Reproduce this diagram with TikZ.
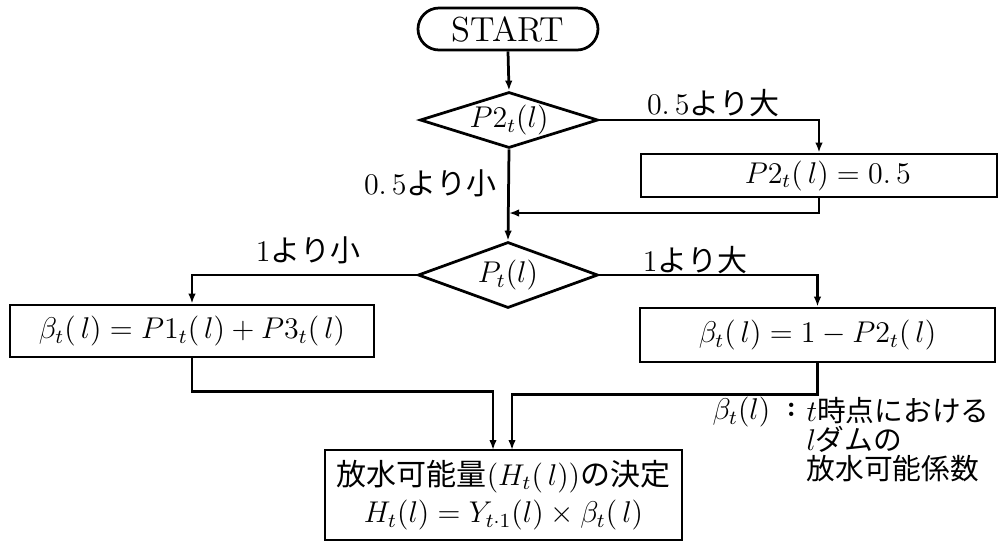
\documentclass[tikz,border=0pt]{standalone}
\usepackage{fontspec}
\newfontfamily\jp{Noto Sans CJK JP}
\usetikzlibrary{shapes.geometric,arrows.meta}
\def\px{0.4pt}
\begin{document}
\begin{tikzpicture}[x=0.4pt,y=-0.4pt,
  txt/.style={font=\fontsize{12}{14}\selectfont, inner sep=0pt},
  lgd/.style={font=\fontsize{11.5}{10}\selectfont, inner sep=0pt, anchor=west},
  box/.style={draw, line width=1.1pt, rectangle, inner sep=0pt, font=\fontsize{12}{14}\selectfont},
  dia/.style={draw, line width=1.1pt, diamond, inner sep=0pt, font=\fontsize{12}{14}\selectfont},
  conn/.style={line width=1.1pt},
  arr/.style={conn, -{Latex[length=4pt,width=3pt]}}]
\useasboundingbox (0,0) rectangle (1000,542);
% nodes
\node[box, rounded corners=21*\px, minimum width=180*\px, minimum height=42*\px, font=\fontsize{13.9}{16}\selectfont] (start) at (508,29) {START};
\node[dia, aspect=3.18, minimum width=178*\px, minimum height=56*\px] (d1) at (509,120) {$P2_t(l)$};
\node[box, minimum width=356*\px, minimum height=43*\px] (b2) at (819,175.5) {\hspace*{7pt}$P2_t(\,l)=0.\,5$};
\node[dia, aspect=2.73, minimum width=180*\px, minimum height=66*\px] (d2) at (508,275) {$P_t(l)$};
\node[box, minimum width=364*\px, minimum height=52*\px] (b3) at (192,331) {$\beta_t(\,l)=P1_t(\,l)+P3_t(\,l)$};
\node[box, minimum width=355*\px, minimum height=54*\px] (b4) at (817.5,335) {$\beta_t(\,l)=1-P2_t(\,l)$};
\node[box, minimum width=357*\px, minimum height=90*\px, align=center] (b5) at (503.5,495)
  {{\jp 放水可能量}$(H_t(\,l))${\jp の決定}\\[1pt]$H_t(l)=Y_{t\cdot 1}(l)\times\beta_t(\,l)$};
% branch labels
\node[txt] (l1) at (713,103) {0.\,5{\jp より大}};
\node[txt] (l2) at (430,183) {0.\,5{\jp より小}};
\node[txt] (l3) at (308,250) {1{\jp より小}};
\node[txt] (l4) at (695,260) {1{\jp より大}};
% legend
\node[lgd, font=\fontsize{11.5}{12}\selectfont] (g1) at (712,412) {$\beta_t(l)$};
\node[lgd, font=\fontsize{12}{12}\selectfont] (g2) at (786,410) {\textbf{:}};
\node[lgd, align=left, anchor=north west] (g3) at (806,397)
  {$t${\jp 時点における}\\$l${\jp ダムの}\\{\jp 放水可能係数}};
% coordinates
\coordinate (j1) at (509,213);
\coordinate (b5L) at (493,450);
\coordinate (b5R) at (512,450);
% connectors
\draw[arr] (start.south) -- (d1.north);
\draw[arr] (d1.east) -| (b2.north);
\draw[arr] (b2.south) |- (j1);
\draw[arr] (d1.south) -- (d2.north);
\draw[arr] (d2.west) -| (b3.north);
\draw[arr] (d2.east) -| (b4.north);
\draw[arr] (b3.south) -- ++(0,33) -| (b5L);
\draw[arr] (b4.south) -- ++(0,31) -| (b5R);
\end{tikzpicture}
\end{document}
